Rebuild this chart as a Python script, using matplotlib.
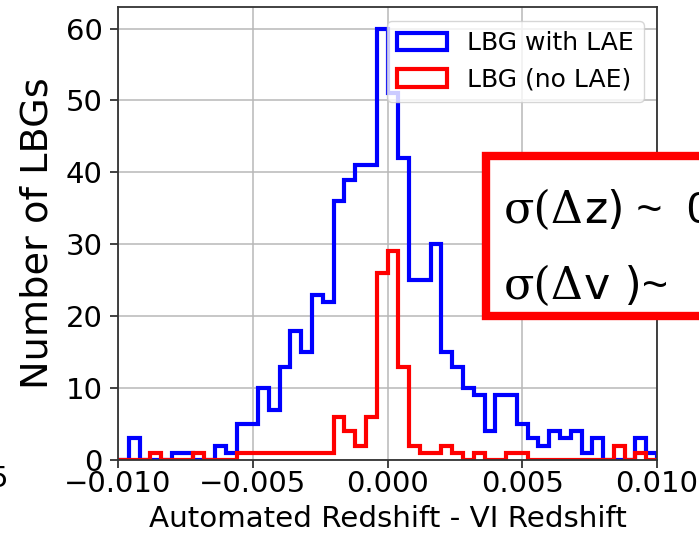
import numpy as np
import matplotlib
matplotlib.use("Agg")
import matplotlib.pyplot as plt
from matplotlib.patches import Rectangle

# ---------------- data ----------------
x_range = (-0.010, 0.010)
n_bins = 50
lbg_with_lae = [0, 3, 0, 0, 0, 1, 1, 0, 0, 2,
                1, 5, 5, 10, 7, 13, 18, 15, 23, 22,
                36, 39, 41, 41, 60, 51, 42, 25, 25, 30,
                15, 13, 10, 9, 4, 9, 9, 5, 3, 2,
                4, 3, 4, 1, 3, 0, 0, 0, 3, 1]
lbg_no_lae = [0, 0, 0, 1, 0, 0, 0, 1, 0, 0,
              0, 1, 1, 1, 1, 1, 1, 1, 1, 1,
              6, 4, 2, 6, 26, 29, 13, 2, 1, 1,
              2, 1, 0, 1, 0, 0, 1, 1, 0, 0,
              0, 0, 0, 0, 0, 0, 2, 0, 1, 0]
series_labels = ["LBG with LAE", "LBG (no LAE)"]
x_ticks = [-0.010, -0.005, 0.000, 0.005, 0.010]
y_ticks = [0, 10, 20, 30, 40, 50, 60]
x_label = "Automated Redshift - VI Redshift"
y_label = "Number of LBGs"
box_line1 = ("σ(Δ", "z)", " ~  0")
box_line2 = ("σ(Δ", "v )", "~")

W, H = 699, 536
fig = plt.figure(figsize=(W / 100, H / 100), dpi=100)
ax = fig.add_axes([118 / W, 1 - 460 / H, 539 / W, 453 / H])

edges = np.linspace(x_range[0], x_range[1], n_bins + 1)
centers = 0.5 * (edges[:-1] + edges[1:])

ax.hist(centers, bins=edges, weights=lbg_with_lae, histtype="step",
        color="#0000ff", lw=3.0, label=series_labels[0])
ax.hist(centers, bins=edges, weights=lbg_no_lae, histtype="step",
        color="#ff0000", lw=3.0, label=series_labels[1])

ax.set_xlim(x_range)
ax.set_ylim(0, 63)
ax.set_xticks(x_ticks)
ax.set_yticks(y_ticks)
ax.grid(True, color="#b8b8b8", lw=1.1)
ax.set_axisbelow(True)
for s in ax.spines.values():
    s.set_linewidth(1.3)
    s.set_color("#333333")
ax.tick_params(axis="both", labelsize=21, length=6, width=1.3, color="#333333")
ax.tick_params(axis="x", pad=1)
ax.tick_params(axis="y", pad=5)

ax.set_xlabel(x_label, fontsize=21.2)
ax.xaxis.set_label_coords(0.5, (460 - 505) / 453)
ax.set_ylabel(y_label, fontsize=27.5)
ax.yaxis.set_label_coords((56 - 118) / 539, 0.5)

leg = ax.legend(loc="upper right", fontsize=18, framealpha=0.8,
                bbox_to_anchor=(644 / W, 1 - 21 / H), bbox_transform=fig.transFigure,
                borderaxespad=0)

# cut-off tick label from neighbouring panel at the far left
fig.text(8 / W, 1 - 465 / H, "5", fontsize=21, ha="right", va="top")

# red annotation box (cropped at figure edge)
rect = Rectangle((486 / W, 1 - 316 / H), (780 - 486) / W, (316 - 156) / H,
                 transform=fig.transFigure, facecolor="white", edgecolor="#ff0000",
                 lw=6, zorder=3)
fig.add_artist(rect)

fs = 32
for (greek, mid, tail), yb in ((box_line1, 223), (box_line2, 299)):
    t1 = fig.text(504 / W, 1 - yb / H, greek, fontsize=fs,
                  family=["DejaVu Serif"], va="baseline", ha="left", zorder=4)
    t2 = fig.add_artist(plt.Annotation(mid, xy=(1, 0), xycoords=t1, fontsize=fs,
                                       family=["DejaVu Sans"], va="bottom", ha="left",
                                       annotation_clip=False, zorder=4))
    fig.add_artist(plt.Annotation(tail, xy=(1, 0), xycoords=t2, fontsize=fs,
                                  family=["Liberation Sans", "DejaVu Sans"], va="bottom",
                                  ha="left", annotation_clip=False, zorder=4))

fig.savefig("out.png", dpi=100)
